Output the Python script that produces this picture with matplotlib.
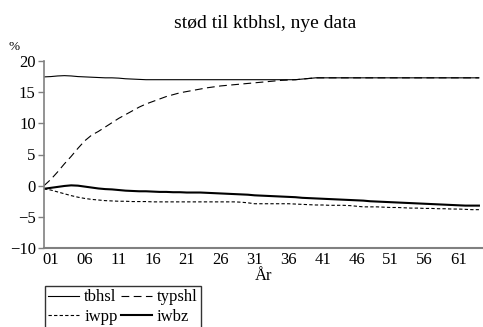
import numpy as np
import matplotlib
matplotlib.use("Agg")
from matplotlib import pyplot as plt

plt.rcParams['font.family'] = ['Liberation Serif', 'DejaVu Serif']

# years since 2000, 0..64
years = np.arange(65)

tbhsl = [17.45, 17.5, 17.6, 17.65, 17.6, 17.5, 17.45, 17.4, 17.35, 17.3,
         17.3, 17.25, 17.15, 17.1, 17.05, 17.0] + [17.0] * 22 + \
        [17.1, 17.2] + [17.3] * 25

typshl = [0.0, 1.0, 2.2, 3.5, 4.7, 6.0, 7.2, 8.1, 8.7, 9.4,
          10.1, 10.8, 11.4, 12.0, 12.6, 13.1, 13.5, 13.9, 14.3, 14.6,
          14.9, 15.1, 15.3, 15.5, 15.7, 15.85, 16.0, 16.1, 16.2, 16.3,
          16.4, 16.5, 16.6, 16.7, 16.8, 16.9, 16.95, 17.0, 17.1, 17.2] + [17.3] * 25

iwpp = [-0.5, -0.7, -1.0, -1.3, -1.6, -1.85, -2.05, -2.2, -2.3, -2.4,
        -2.45, -2.5, -2.5, -2.55, -2.55, -2.55, -2.6, -2.6, -2.6, -2.6,
        -2.6, -2.6, -2.6, -2.6, -2.6, -2.6, -2.6, -2.6, -2.6, -2.65,
        -2.75, -2.9, -2.9, -2.9, -2.9, -2.9, -2.9, -2.95, -3.0, -3.05,
        -3.1, -3.1, -3.15, -3.15, -3.15, -3.2, -3.3, -3.4, -3.4, -3.4,
        -3.45, -3.5, -3.5, -3.55, -3.6, -3.6, -3.65, -3.65, -3.7, -3.7,
        -3.75, -3.75, -3.8, -3.85, -3.85]

iwbz = [-0.5, -0.35, -0.2, -0.05, 0.05, 0.0, -0.15, -0.3, -0.45, -0.55,
        -0.6, -0.7, -0.8, -0.85, -0.9, -0.9, -0.95, -1.0, -1.0, -1.05,
        -1.05, -1.1, -1.1, -1.1, -1.15, -1.2, -1.25, -1.3, -1.35, -1.4,
        -1.45, -1.55, -1.6, -1.65, -1.7, -1.75, -1.8, -1.85, -1.95, -2.0,
        -2.05, -2.1, -2.15, -2.2, -2.25, -2.3, -2.35, -2.4, -2.5, -2.55,
        -2.6, -2.65, -2.7, -2.75, -2.8, -2.85, -2.9, -2.95, -3.0, -3.05,
        -3.1, -3.15, -3.2, -3.2, -3.2]

tick_pos = list(range(1, 62, 5))
tick_labels = [f"{y:02d}" for y in tick_pos]

fig = plt.figure(figsize=(4.83, 3.27), dpi=100)
ax = fig.add_axes([44 / 483, 1 - 248 / 327, 439 / 483, 187 / 327])

ax.plot(years, tbhsl, color='black', lw=0.8, label='tbhsl')
ax.plot(years, iwpp, color='black', lw=0.8, dashes=(3, 2), label='iwpp')
ax.plot(years, typshl, color='black', lw=0.8, dashes=(7, 4), label='typshl')
ax.plot(years, iwbz, color='black', lw=1.5, label='iwbz')

ax.set_xlim(0, 64.6)
ax.set_ylim(-10, 20)
ax.set_yticks([-10, -5, 0, 5, 10, 15, 20])
ax.set_xticks(tick_pos)
ax.set_xticklabels(tick_labels)
ax.tick_params(axis='x', length=0, labelsize=12, pad=3)
ax.tick_params(axis='y', length=4, width=1, color='#808080', labelsize=12, pad=2)

for side in ['top', 'right']:
    ax.spines[side].set_visible(False)
ax.spines['left'].set_color('#808080')
ax.spines['left'].set_linewidth(1.2)
ax.spines['bottom'].set_color('#808080')
ax.spines['bottom'].set_linewidth(1.5)

fig.text(265 / 483, 1 - 24 / 327, "stød til ktbhsl, nye data", ha='center', va='center', fontsize=14)
fig.text(14 / 483, 1 - 47 / 327, "%", ha='center', va='center', fontsize=9.5)
ax.set_xlabel("År", fontsize=12, labelpad=0)

fig.legend(loc='upper left', bbox_to_anchor=(45 / 483, 1 - 286 / 327), ncol=2,
           fontsize=12, frameon=True, fancybox=False, edgecolor='black',
           handlelength=1.85, handletextpad=0.3, columnspacing=0.2,
           borderpad=0.2, labelspacing=0.2, borderaxespad=0)

fig.savefig("out.png", dpi=100)
